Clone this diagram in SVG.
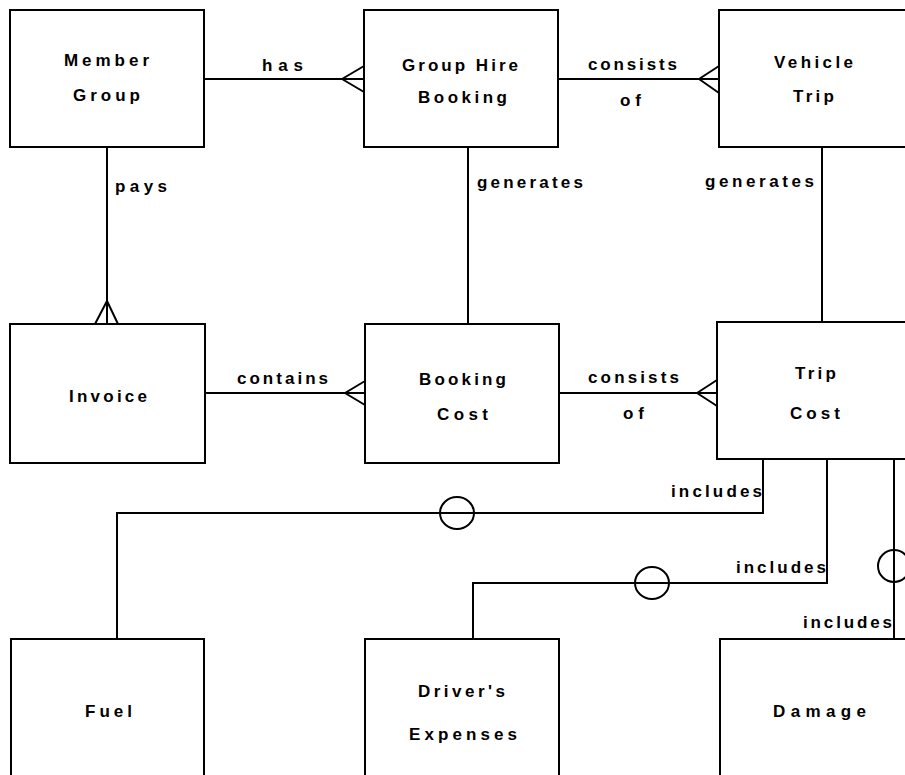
<svg xmlns="http://www.w3.org/2000/svg" width="905" height="775" viewBox="0 0 905 775">
  <style>
    .box { fill: #ffffff; stroke: #000000; stroke-width: 2; }
    .line { fill: none; stroke: #000000; stroke-width: 2; }
    text { font-family: "Liberation Sans", Arial, sans-serif; font-size: 17px; font-weight: bold; fill: #000000; }
  </style>
  <rect width="905" height="775" fill="#ffffff"/>

  <!-- relationships -->
  <g id="connectors" class="line">
    <!-- Member Group has Group Hire Booking -->
    <path d="M204,79 H364 M342,79 L364,66 M342,79 L364,92"/>
    <!-- Group Hire Booking consists of Vehicle Trip -->
    <path d="M558,79 H719 M699,79 L719,66 M699,79 L719,93"/>
    <!-- Member Group pays Invoice -->
    <path d="M107,147 V324 M107,301 L95,324 M107,301 L118,324"/>
    <!-- generates -->
    <path d="M468,147 V324"/>
    <path d="M822,147 V322"/>
    <!-- Invoice contains Booking Cost -->
    <path d="M205,393 H365 M345,393 L365,381 M345,393 L365,405"/>
    <!-- Booking Cost consists of Trip Cost -->
    <path d="M559,393 H717 M697,393 L717,380 M697,393 L717,406"/>
    <!-- Trip Cost includes Fuel / Driver's Expenses / Damage -->
    <path d="M763,459 V513 H117 V639"/>
    <ellipse cx="457" cy="513" rx="17" ry="16"/>
    <path d="M827,459 V583 H473 V639"/>
    <ellipse cx="652" cy="583" rx="17" ry="16"/>
    <path d="M894,459 V639"/>
    <ellipse cx="894" cy="566" rx="16" ry="16"/>
  </g>

  <!-- relationship labels -->
  <g id="labels">
    <text x="262" y="71" textLength="41" lengthAdjust="spacing">has</text>
    <text x="588" y="70" textLength="89" lengthAdjust="spacing">consists</text>
    <text x="620" y="106" textLength="21" lengthAdjust="spacing">of</text>
    <text x="115" y="192" textLength="52" lengthAdjust="spacing">pays</text>
    <text x="477" y="188" textLength="106" lengthAdjust="spacing">generates</text>
    <text x="705" y="187" textLength="109" lengthAdjust="spacing">generates</text>
    <text x="237" y="384" textLength="91" lengthAdjust="spacing">contains</text>
    <text x="588" y="383" textLength="91" lengthAdjust="spacing">consists</text>
    <text x="623" y="419" textLength="21" lengthAdjust="spacing">of</text>
    <text x="671" y="497" textLength="91" lengthAdjust="spacing">includes</text>
    <text x="736" y="573" textLength="90" lengthAdjust="spacing">includes</text>
    <text x="803" y="628" textLength="89" lengthAdjust="spacing">includes</text>
  </g>

  <!-- entities -->
  <g id="member-group">
    <rect class="box" x="10" y="10" width="194" height="137"/>
    <text x="64" y="66" textLength="85" lengthAdjust="spacing">Member</text>
    <text x="73" y="101" textLength="67" lengthAdjust="spacing">Group</text>
  </g>
  <g id="group-hire-booking">
    <rect class="box" x="364" y="10" width="194" height="137"/>
    <text x="402" y="71" textLength="116" lengthAdjust="spacing">Group Hire</text>
    <text x="418" y="103" textLength="89" lengthAdjust="spacing">Booking</text>
  </g>
  <g id="vehicle-trip">
    <rect class="box" x="719" y="10" width="194" height="137"/>
    <text x="774" y="68" textLength="79" lengthAdjust="spacing">Vehicle</text>
    <text x="793" y="102" textLength="41" lengthAdjust="spacing">Trip</text>
  </g>
  <g id="invoice">
    <rect class="box" x="10" y="324" width="195" height="139"/>
    <text x="69" y="402" textLength="78" lengthAdjust="spacing">Invoice</text>
  </g>
  <g id="booking-cost">
    <rect class="box" x="365" y="324" width="194" height="139"/>
    <text x="419" y="385" textLength="87" lengthAdjust="spacing">Booking</text>
    <text x="437" y="420" textLength="51" lengthAdjust="spacing">Cost</text>
  </g>
  <g id="trip-cost">
    <rect class="box" x="717" y="322" width="194" height="137"/>
    <text x="795" y="379" textLength="41" lengthAdjust="spacing">Trip</text>
    <text x="790" y="419" textLength="50" lengthAdjust="spacing">Cost</text>
  </g>
  <g id="fuel">
    <rect class="box" x="11" y="639" width="193" height="200"/>
    <text x="85" y="717" textLength="47" lengthAdjust="spacing">Fuel</text>
  </g>
  <g id="drivers-expenses">
    <rect class="box" x="365" y="639" width="194" height="200"/>
    <text x="418" y="697" textLength="87" lengthAdjust="spacing">Driver's</text>
    <text x="409" y="740" textLength="108" lengthAdjust="spacing">Expenses</text>
  </g>
  <g id="damage">
    <rect class="box" x="720" y="639" width="194" height="200"/>
    <text x="773" y="717" textLength="93" lengthAdjust="spacing">Damage</text>
  </g>
</svg>
